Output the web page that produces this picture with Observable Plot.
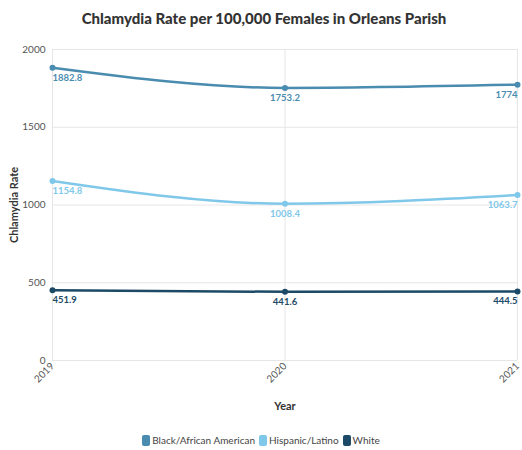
<!DOCTYPE html>
<html>
<head>
<meta charset="utf-8">
<script src="https://cdn.jsdelivr.net/npm/d3@7"></script>
<script src="https://cdn.jsdelivr.net/npm/@observablehq/plot@0.6"></script>
<style>
  body { margin: 0; background: #fff; font-family: Lato, "Open Sans", sans-serif; }
  #wrap { width: 522px; }
  #title { height: 36px; line-height: 36px; text-align: center; font-weight: 900; font-size: 15px; color: #333; padding-left: 6px; box-sizing: border-box; }
  #legend { display: flex; justify-content: center; align-items: center; gap: 4px; font-size: 10px; color: #444; margin-top: 8px; }
  #legend .item { display: flex; align-items: center; gap: 2px; }
  #legend .sw { width: 8px; height: 11px; border-radius: 2px; display: inline-block; }
</style>
</head>
<body>
<div id="wrap">
  <div id="title">Chlamydia Rate per 100,000 Females in Orleans Parish</div>
  <div id="chart"></div>
  <div id="legend"></div>
</div>
<script>
const years = [2019, 2020, 2021];
const seriesNames = ["Black/African American", "Hispanic/Latino", "White"];
const blackValues = [1882.8, 1753.2, 1774];
const hispanicValues = [1154.8, 1008.4, 1063.7];
const whiteValues = [451.9, 441.6, 444.5];
const seriesColors = ["#4a8cb0", "#80c8ea", "#1c4a66"];
const yTicks = [0, 500, 1000, 1500, 2000];

const valuesBySeries = [blackValues, hispanicValues, whiteValues];
const data = [];
seriesNames.forEach((s, i) => {
  years.forEach((y, j) => data.push({series: s, year: y, value: valuesBySeries[i][j], idx: j}));
});

const color = {domain: seriesNames, range: seriesColors};

const labelMark = (anchor, idx) => Plot.text(data.filter(d => d.idx === idx), {
  x: "year", y: "value", text: d => String(d.value), fill: "series",
  textAnchor: anchor, dy: 10, fontSize: 9.5, fontWeight: "bold"
});

const chart = Plot.plot({
  width: 522,
  height: 390,
  marginTop: 13,
  marginBottom: 66,
  marginLeft: 52,
  marginRight: 5,
  style: {fontFamily: "Lato, 'Open Sans', sans-serif", fontSize: "10px", color: "#555", overflow: "visible"},
  color,
  x: {domain: [2019, 2021], label: null},
  y: {domain: [0, 2000], label: null},
  marks: [
    Plot.gridY(yTicks, {stroke: "#e6e6e6", strokeOpacity: 1}),
    Plot.gridX(years, {stroke: "#e6e6e6", strokeOpacity: 1}),
    Plot.axisX({ticks: years, tickFormat: d => String(d), tickRotate: -45, tickSize: 0, tickPadding: 4, label: null, fill: "#555"}),
    Plot.axisY({ticks: yTicks, tickFormat: d => String(d), tickSize: 0, tickPadding: 7, label: null, fill: "#555"}),
    Plot.line(data, {x: "year", y: "value", stroke: "series", strokeWidth: 2.5, curve: "monotone-x"}),
    Plot.dot(data, {x: "year", y: "value", fill: "series", r: 3}),
    labelMark("start", 0),
    labelMark("middle", 1),
    labelMark("end", 2),
    Plot.text(["Year"], {frameAnchor: "bottom", dy: 49, fontWeight: "bold", fontSize: 11, fill: "#333"}),
    Plot.text(["Chlamydia Rate"], {frameAnchor: "left", textAnchor: "middle", dx: -38, rotate: -90, fontWeight: "bold", fontSize: 11, fill: "#333"})
  ]
});
document.getElementById("chart").appendChild(chart);

const legend = document.getElementById("legend");
seriesNames.forEach((s, i) => {
  const item = document.createElement("span");
  item.className = "item";
  const sw = document.createElement("span");
  sw.className = "sw";
  sw.style.background = seriesColors[i];
  item.appendChild(sw);
  item.appendChild(document.createTextNode(s));
  legend.appendChild(item);
});
</script>
</body>
</html>
